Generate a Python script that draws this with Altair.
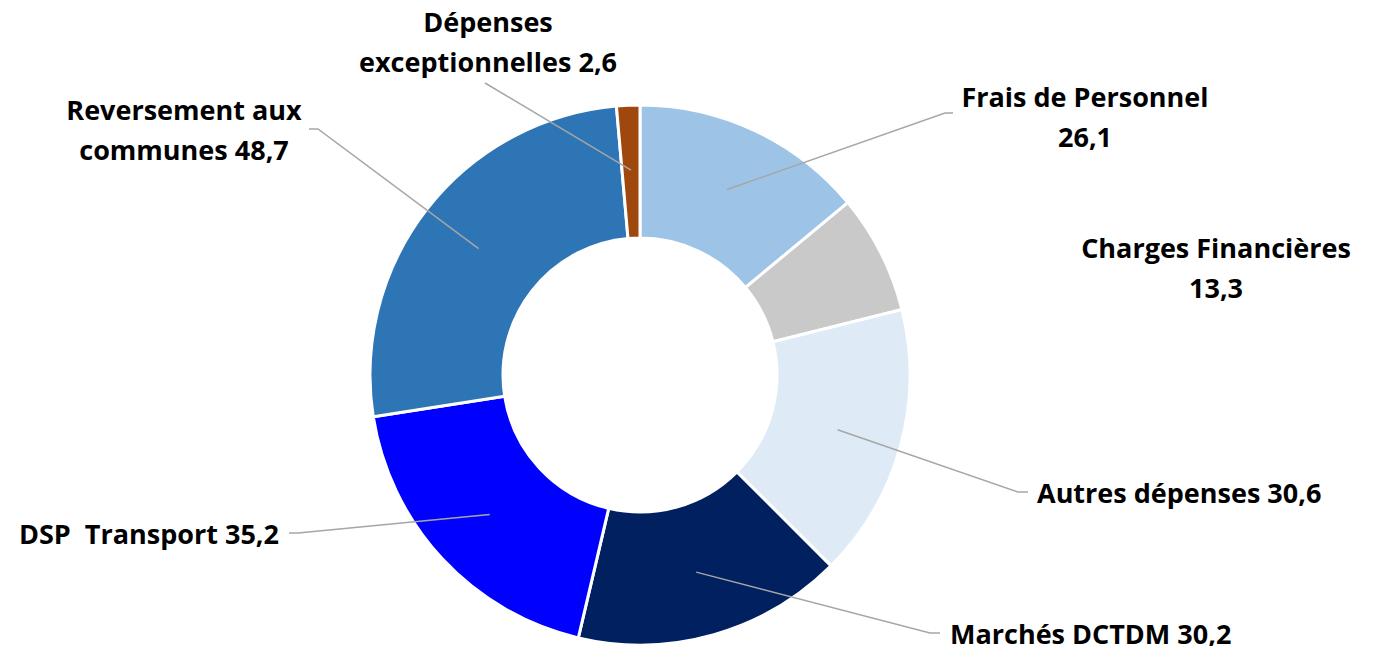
import math
import altair as alt
import pandas as pd

# ---- data ----
categories = ["Frais de Personnel", "Charges Financières", "Autres dépenses",
              "Marchés DCTDM", "DSP  Transport", "Reversement aux communes",
              "Dépenses exceptionnelles"]
values = [26.1, 13.3, 30.6, 30.2, 35.2, 48.7, 2.6]
colors = ["#9DC3E6", "#C9C9C9", "#DEEBF7", "#002060", "#0000FF", "#2E75B6", "#9E480E"]
# label texts (value appended)
label_heads = [["Frais de Personnel"], ["Charges Financières"], ["Autres dépenses"],
               ["Marchés DCTDM"], ["DSP\u00a0 Transport"], ["Reversement aux", "communes"],
               ["Dépenses", "exceptionnelles"]]
value_on_new_line = [True, True, False, False, False, False, False]

# ---- layout (chart pixel coords) ----
W, H = 1357, 638
CX, CY = 632, 367
R_IN, R_OUT, R_ANCHOR = 137, 270, 205
FONT = "Open Sans"
FS = 27
LINE_H = 40
# label anchor (x, first baseline y, align)
label_pos = [(1077, 99, "center"), (1208, 250, "center"), (1029, 495, "left"),
             (942, 636, "left"), (271, 536, "right"), (176, 112, "center"),
             (480, 24, "center")]
# leader line elbow and end points (None = no leader)
leaders = [((937, 105), (945, 105)), None, ((1010, 484), (1020, 484)),
           ((922, 625), (932, 625)), ((290, 525), (281, 525)),
           ((310, 121), (301, 121)), ((477, 75), (477, 75))]


def fmt(v):
    return f"{v:.1f}".replace(".", ",")


total = sum(values)
arc_df = pd.DataFrame({"category": categories, "value": values,
                       "idx": list(range(len(values)))})

text_rows, line_rows = [], []
cum = 0.0
for i, (cat, v) in enumerate(zip(categories, values)):
    mid = (cum + v / 2) / total * 2 * math.pi
    cum += v
    lines = list(label_heads[i])
    if value_on_new_line[i]:
        lines.append(fmt(v))
    else:
        lines[-1] = lines[-1] + " " + fmt(v)
    x0, y0, al = label_pos[i]
    for j, t in enumerate(lines):
        text_rows.append({"category": cat, "text": t, "x": x0, "y": y0 + j * LINE_H, "align": al})
    if leaders[i] is not None:
        ax = CX + R_ANCHOR * math.sin(mid)
        ay = CY - R_ANCHOR * math.cos(mid)
        (ex, ey), (tx, ty) = leaders[i]
        for k, (px, py) in enumerate([(ax, ay), (ex, ey), (tx, ty)]):
            line_rows.append({"category": cat, "k": k, "x": px, "y": py})

text_df = pd.DataFrame(text_rows)
line_df = pd.DataFrame(line_rows)

xs = alt.Scale(domain=[0, W], range=[0, W])
ys = alt.Scale(domain=[0, H], range=[0, H])

arcs = alt.Chart(arc_df).mark_arc(
    innerRadius=R_IN, outerRadius=R_OUT, stroke="white", strokeWidth=3
).encode(
    theta=alt.Theta("value:Q", stack=True),
    color=alt.Color("category:N", scale=alt.Scale(domain=categories, range=colors), legend=None),
    order=alt.Order("idx:Q"),
    x=alt.value(CX),
    y=alt.value(CY),
)

leader = alt.Chart(line_df).mark_line(color="#A6A6A6", strokeWidth=1.5).encode(
    x=alt.X("x:Q", scale=xs, axis=None),
    y=alt.Y("y:Q", scale=ys, axis=None),
    detail="category:N",
    order="k:Q",
)

texts = []
for al in ["left", "center", "right"]:
    sub = text_df[text_df["align"] == al]
    texts.append(
        alt.Chart(sub).mark_text(
            align=al, baseline="alphabetic", font=FONT, fontSize=FS,
            fontWeight="bold", color="#000000"
        ).encode(
            x=alt.X("x:Q", scale=xs, axis=None),
            y=alt.Y("y:Q", scale=ys, axis=None),
            text="text:N",
        )
    )

chart = alt.layer(arcs, leader, *texts).properties(
    width=W, height=H, padding=0, autosize=alt.AutoSizeParams(type="none")
).configure_view(stroke=None)

chart.save("out.html", embed_options={"renderer": "svg", "actions": False})
